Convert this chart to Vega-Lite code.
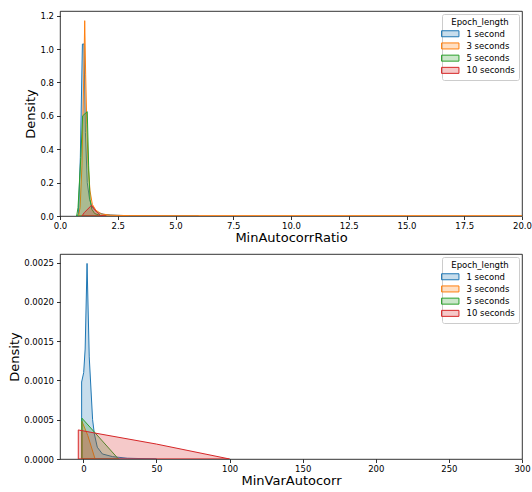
{
  "$schema": "https://vega.github.io/schema/vega-lite/v6.json",
  "padding": {"left": 8, "top": 10, "right": 11, "bottom": 0},
  "spacing": 8,
  "datasets": {
    "ratio": [
      {"Epoch_length": "1 second", "MinAutocorrRatio": 0.70, "Density": 0},
      {"Epoch_length": "1 second", "MinAutocorrRatio": 0.80, "Density": 0.01},
      {"Epoch_length": "1 second", "MinAutocorrRatio": 0.88, "Density": 0.35},
      {"Epoch_length": "1 second", "MinAutocorrRatio": 0.97, "Density": 1.03},
      {"Epoch_length": "1 second", "MinAutocorrRatio": 1.04, "Density": 1.03},
      {"Epoch_length": "1 second", "MinAutocorrRatio": 1.10, "Density": 0.5},
      {"Epoch_length": "1 second", "MinAutocorrRatio": 1.18, "Density": 0.2},
      {"Epoch_length": "1 second", "MinAutocorrRatio": 1.28, "Density": 0.1},
      {"Epoch_length": "1 second", "MinAutocorrRatio": 1.38, "Density": 0.055},
      {"Epoch_length": "1 second", "MinAutocorrRatio": 1.5, "Density": 0.035},
      {"Epoch_length": "1 second", "MinAutocorrRatio": 1.65, "Density": 0.02},
      {"Epoch_length": "1 second", "MinAutocorrRatio": 1.9, "Density": 0.01},
      {"Epoch_length": "1 second", "MinAutocorrRatio": 2.2, "Density": 0.006},
      {"Epoch_length": "1 second", "MinAutocorrRatio": 2.5, "Density": 0.004},
      {"Epoch_length": "1 second", "MinAutocorrRatio": 3, "Density": 0.002},
      {"Epoch_length": "1 second", "MinAutocorrRatio": 4, "Density": 0.001},
      {"Epoch_length": "1 second", "MinAutocorrRatio": 5, "Density": 0.0005},
      {"Epoch_length": "1 second", "MinAutocorrRatio": 6, "Density": 0},
      {"Epoch_length": "3 seconds", "MinAutocorrRatio": 0.80, "Density": 0},
      {"Epoch_length": "3 seconds", "MinAutocorrRatio": 0.87, "Density": 0.05},
      {"Epoch_length": "3 seconds", "MinAutocorrRatio": 0.95, "Density": 0.3},
      {"Epoch_length": "3 seconds", "MinAutocorrRatio": 1.03, "Density": 0.85},
      {"Epoch_length": "3 seconds", "MinAutocorrRatio": 1.07, "Density": 1.17},
      {"Epoch_length": "3 seconds", "MinAutocorrRatio": 1.11, "Density": 0.85},
      {"Epoch_length": "3 seconds", "MinAutocorrRatio": 1.16, "Density": 0.55},
      {"Epoch_length": "3 seconds", "MinAutocorrRatio": 1.22, "Density": 0.3},
      {"Epoch_length": "3 seconds", "MinAutocorrRatio": 1.3, "Density": 0.15},
      {"Epoch_length": "3 seconds", "MinAutocorrRatio": 1.4, "Density": 0.07},
      {"Epoch_length": "3 seconds", "MinAutocorrRatio": 1.55, "Density": 0.035},
      {"Epoch_length": "3 seconds", "MinAutocorrRatio": 1.8, "Density": 0.012},
      {"Epoch_length": "3 seconds", "MinAutocorrRatio": 2.2, "Density": 0.005},
      {"Epoch_length": "3 seconds", "MinAutocorrRatio": 3, "Density": 0.002},
      {"Epoch_length": "3 seconds", "MinAutocorrRatio": 5, "Density": 0.001},
      {"Epoch_length": "3 seconds", "MinAutocorrRatio": 10, "Density": 0.0008},
      {"Epoch_length": "3 seconds", "MinAutocorrRatio": 15, "Density": 0.0008},
      {"Epoch_length": "3 seconds", "MinAutocorrRatio": 20, "Density": 0.0006},
      {"Epoch_length": "5 seconds", "MinAutocorrRatio": 0.72, "Density": 0},
      {"Epoch_length": "5 seconds", "MinAutocorrRatio": 0.78, "Density": 0.05},
      {"Epoch_length": "5 seconds", "MinAutocorrRatio": 0.9, "Density": 0.35},
      {"Epoch_length": "5 seconds", "MinAutocorrRatio": 0.98, "Density": 0.6},
      {"Epoch_length": "5 seconds", "MinAutocorrRatio": 1.18, "Density": 0.625},
      {"Epoch_length": "5 seconds", "MinAutocorrRatio": 1.24, "Density": 0.3},
      {"Epoch_length": "5 seconds", "MinAutocorrRatio": 1.3, "Density": 0.1},
      {"Epoch_length": "5 seconds", "MinAutocorrRatio": 1.38, "Density": 0.04},
      {"Epoch_length": "5 seconds", "MinAutocorrRatio": 1.5, "Density": 0.015},
      {"Epoch_length": "5 seconds", "MinAutocorrRatio": 1.7, "Density": 0.005},
      {"Epoch_length": "5 seconds", "MinAutocorrRatio": 2.0, "Density": 0},
      {"Epoch_length": "10 seconds", "MinAutocorrRatio": 0.95, "Density": 0},
      {"Epoch_length": "10 seconds", "MinAutocorrRatio": 1.05, "Density": 0.02},
      {"Epoch_length": "10 seconds", "MinAutocorrRatio": 1.37, "Density": 0.065},
      {"Epoch_length": "10 seconds", "MinAutocorrRatio": 1.55, "Density": 0.03},
      {"Epoch_length": "10 seconds", "MinAutocorrRatio": 1.75, "Density": 0.003},
      {"Epoch_length": "10 seconds", "MinAutocorrRatio": 2.0, "Density": 0}
    ],
    "var": [
      {"Epoch_length": "1 second", "MinVarAutocorr": -1.2, "Density": 0.00098},
      {"Epoch_length": "1 second", "MinVarAutocorr": 0.2, "Density": 0.0011},
      {"Epoch_length": "1 second", "MinVarAutocorr": 1.2, "Density": 0.0014},
      {"Epoch_length": "1 second", "MinVarAutocorr": 2.5, "Density": 0.00249},
      {"Epoch_length": "1 second", "MinVarAutocorr": 4.0, "Density": 0.0013},
      {"Epoch_length": "1 second", "MinVarAutocorr": 6.3, "Density": 0.0005},
      {"Epoch_length": "1 second", "MinVarAutocorr": 7.5, "Density": 0.00032},
      {"Epoch_length": "1 second", "MinVarAutocorr": 9.5, "Density": 0.00015},
      {"Epoch_length": "1 second", "MinVarAutocorr": 13, "Density": 0.000064},
      {"Epoch_length": "1 second", "MinVarAutocorr": 20, "Density": 0.00003},
      {"Epoch_length": "1 second", "MinVarAutocorr": 30, "Density": 0.00001},
      {"Epoch_length": "1 second", "MinVarAutocorr": 50, "Density": 0},
      {"Epoch_length": "3 seconds", "MinVarAutocorr": -1, "Density": 0.00048},
      {"Epoch_length": "3 seconds", "MinVarAutocorr": 3, "Density": 0.0003},
      {"Epoch_length": "3 seconds", "MinVarAutocorr": 8, "Density": 0},
      {"Epoch_length": "5 seconds", "MinVarAutocorr": -1, "Density": 0.00052},
      {"Epoch_length": "5 seconds", "MinVarAutocorr": 24, "Density": 0},
      {"Epoch_length": "10 seconds", "MinVarAutocorr": -3.5, "Density": 0.00037},
      {"Epoch_length": "10 seconds", "MinVarAutocorr": 8, "Density": 0.00033},
      {"Epoch_length": "10 seconds", "MinVarAutocorr": 50, "Density": 0.00019},
      {"Epoch_length": "10 seconds", "MinVarAutocorr": 100, "Density": 0}
    ]
  },
  "vconcat": [
    {
      "data": {"name": "ratio"},
      "width": 462,
      "height": 205,
      "mark": {"type": "area", "fillOpacity": 0.25, "strokeWidth": 1, "clip": true},
      "encoding": {
        "x": {"field": "MinAutocorrRatio", "type": "quantitative",
              "scale": {"domain": [0, 20], "nice": false, "zero": false},
              "axis": {"values": [0, 2.5, 5, 7.5, 10, 12.5, 15, 17.5, 20], "format": ".1f", "title": "MinAutocorrRatio"}},
        "y": {"field": "Density", "type": "quantitative", "stack": null,
              "scale": {"domain": [0, 1.228], "nice": false},
              "axis": {"values": [0, 0.2, 0.4, 0.6, 0.8, 1.0, 1.2], "format": ".1f", "title": "Density"}},
        "fill": {"field": "Epoch_length", "type": "nominal",
                 "scale": {"domain": ["1 second", "3 seconds", "5 seconds", "10 seconds"], "range": ["#1f77b4", "#ff7f0e", "#2ca02c", "#d62728"]},
                 "legend": {"title": "Epoch_length", "encode": {"symbols": {"update": {"fillOpacity": {"value": 0.25}, "strokeOpacity": {"value": 1}}}}}},
        "stroke": {"field": "Epoch_length", "type": "nominal",
                 "scale": {"domain": ["1 second", "3 seconds", "5 seconds", "10 seconds"], "range": ["#1f77b4", "#ff7f0e", "#2ca02c", "#d62728"]},
                 "legend": {"title": "Epoch_length", "encode": {"symbols": {"update": {"fillOpacity": {"value": 0.25}, "strokeOpacity": {"value": 1}}}}}}
      }
    },
    {
      "data": {"name": "var"},
      "width": 462,
      "height": 205,
      "mark": {"type": "area", "fillOpacity": 0.25, "strokeWidth": 1, "clip": true},
      "encoding": {
        "x": {"field": "MinVarAutocorr", "type": "quantitative",
              "scale": {"domain": [-16, 300], "nice": false, "zero": false},
              "axis": {"values": [0, 50, 100, 150, 200, 250, 300], "format": "d", "title": "MinVarAutocorr"}},
        "y": {"field": "Density", "type": "quantitative", "stack": null,
              "scale": {"domain": [0, 0.00261], "nice": false},
              "axis": {"values": [0, 0.0005, 0.001, 0.0015, 0.002, 0.0025], "format": ".4f", "title": "Density"}},
        "fill": {"field": "Epoch_length", "type": "nominal",
                 "scale": {"domain": ["1 second", "3 seconds", "5 seconds", "10 seconds"], "range": ["#1f77b4", "#ff7f0e", "#2ca02c", "#d62728"]},
                 "legend": {"title": "Epoch_length", "encode": {"symbols": {"update": {"fillOpacity": {"value": 0.25}, "strokeOpacity": {"value": 1}}}}}},
        "stroke": {"field": "Epoch_length", "type": "nominal",
                 "scale": {"domain": ["1 second", "3 seconds", "5 seconds", "10 seconds"], "range": ["#1f77b4", "#ff7f0e", "#2ca02c", "#d62728"]},
                 "legend": {"title": "Epoch_length", "encode": {"symbols": {"update": {"fillOpacity": {"value": 0.25}, "strokeOpacity": {"value": 1}}}}}}
      }
    }
  ],
  "resolve": {"legend": {"fill": "independent", "stroke": "independent"}},
  "config": {
    "font": "DejaVu Sans",
    "view": {"stroke": "#000", "strokeWidth": 0.8},
    "axis": {"grid": false, "domain": false, "tickColor": "#000", "tickSize": 3.5, "tickWidth": 0.8,
             "labelFontSize": 8.5, "labelColor": "#000", "titleFontSize": 13, "titleFontWeight": "normal",
             "titleColor": "#000", "labelPadding": 2, "labelFlush": false, "labelOverlap": false},
    "axisX": {"titlePadding": 1},
    "axisY": {"titlePadding": 2, "labelPadding": 3},
    "legend": {"orient": "top-right", "offset": 3, "titleAnchor": "middle", "titleFontSize": 8.5,
               "titleFontWeight": "normal", "titleColor": "#000", "titlePadding": 3,
               "labelFontSize": 8.5, "labelColor": "#000", "labelOffset": 12,
               "symbolType": "M-2.9,-1H2.9V1H-2.9Z", "symbolSize": 36, "symbolStrokeWidth": 1,
               "rowPadding": 1.2, "padding": 4, "fillColor": "rgba(255,255,255,0.8)",
               "strokeColor": "#cccccc", "cornerRadius": 2}
  }
}
